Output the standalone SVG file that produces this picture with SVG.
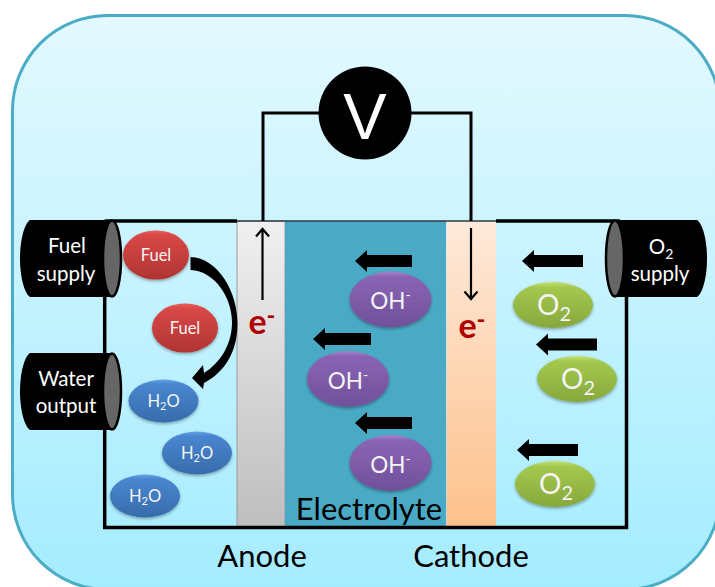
<svg xmlns="http://www.w3.org/2000/svg" width="715" height="587" viewBox="0 0 715 587">
<style>
text{font-family:"Lato","Open Sans","Liberation Sans",sans-serif;text-anchor:middle}
.cyl{fill:#000}
.cap{fill:#666;stroke:#000;stroke-width:2.5}
.wl{fill:#fff;font-size:20.5px}
.frame{fill:none;stroke:#000;stroke-width:3.5}
.wire{fill:none;stroke:#000;stroke-width:3}
.thin{fill:none;stroke:#000;stroke-width:2.2}
.block{fill:#000}
.big{fill:#000;font-size:31px}
.el{filter:url(#sh)}
.fuel{fill:url(#red)}
.water{fill:url(#blue)}
.oh{fill:url(#purple)}
.o2{fill:url(#green)}
.sm{fill:#f4f4f4;font-size:16.500px}
.md{fill:#f4f4f4;font-size:22.500px}
.ox{fill:#f4f4f4;font-size:28px}
.e{fill:#b00000;font-size:34px;font-weight:700}
</style>
<defs>
<linearGradient id="bg" x1="0" y1="0" x2="0" y2="1"><stop offset="0" stop-color="#e3f9ff"/><stop offset="1" stop-color="#a4ecff"/></linearGradient>
<linearGradient id="an" x1="0" y1="0" x2="0" y2="1"><stop offset="0" stop-color="#f0f0f0"/><stop offset="1" stop-color="#bebebe"/></linearGradient>
<linearGradient id="ca" x1="0" y1="0" x2="0" y2="1"><stop offset="0" stop-color="#fee9da"/><stop offset="1" stop-color="#fdc18c"/></linearGradient>
<linearGradient id="red" x1="0" y1="0" x2="0" y2="1"><stop offset="0" stop-color="#e85f5c"/><stop offset=".1" stop-color="#d84846"/><stop offset="1" stop-color="#b03432"/></linearGradient>
<linearGradient id="blue" x1="0" y1="0" x2="0" y2="1"><stop offset="0" stop-color="#6ca4e6"/><stop offset=".1" stop-color="#4a86d0"/><stop offset="1" stop-color="#366cab"/></linearGradient>
<linearGradient id="purple" x1="0" y1="0" x2="0" y2="1"><stop offset="0" stop-color="#a284cc"/><stop offset=".1" stop-color="#8a64b4"/><stop offset="1" stop-color="#70509a"/></linearGradient>
<linearGradient id="green" x1="0" y1="0" x2="0" y2="1"><stop offset="0" stop-color="#c4e070"/><stop offset=".12" stop-color="#a4c84e"/><stop offset="1" stop-color="#86a83c"/></linearGradient>
<filter id="sh" x="-15%" y="-15%" width="130%" height="140%"><feDropShadow dx="0" dy="1.5" stdDeviation="1.5" flood-color="#000" flood-opacity=".35"/></filter>
</defs>

<g id="background"><rect x="12.500" y="15.500" width="707.500" height="574" rx="95" ry="95" fill="url(#bg)" stroke="#4bacc6" stroke-width="3"/></g>

<g id="anode-plate"><rect x="237" y="221" width="48" height="306" fill="url(#an)" stroke="#9a9a9a" stroke-width="1"/></g>
<g id="electrolyte-body"><rect x="285" y="221" width="161" height="306" fill="#4aaac5"/></g>
<g id="cathode-plate"><rect x="446.500" y="221" width="49.500" height="306" fill="url(#ca)"/></g>

<g id="connectors">
<path class="frame" d="M104.700 297V353M104.700 430V527.500H626.500V297M104.700 221H237M496 221H620"/>
<path d="M237 221H496" fill="none" stroke="#2b3a40" stroke-width="1.500"/>
<path class="wire" d="M263 221V113H320M410 113H471V221"/>
<path class="thin" d="M262.500 300V229"/>
<path class="thin" d="M256 236.500L262.500 229L269 236.500"/>
<path class="thin" d="M471 228V299"/>
<path class="thin" d="M464.500 291.500L471 299L477.500 291.500"/>
<path id="fuel-to-water" class="block" d="M190.500 257C218 258 238 292 237.500 325C237 352 225 372 204 383L203 389L192 378L203 365L204 373C220 363 232 345 232 322C232 298 215 271 190.500 270Z"/>
<path class="block" d="M412 255V267H367V272L355 261L367 250V255Z"/>
<path class="block" d="M371 333V345H325V350L313 339L325 328V333Z"/>
<path class="block" d="M412 417V429H367V434L355 423L367 412V417Z"/>
<path class="block" d="M583 255V267H534V272L522 261L534 250V255Z"/>
<path class="block" d="M597 338.500V350.500H548V355.500L536 344.500L548 333.500V338.500Z"/>
<path class="block" d="M578 444V456H529V461L517 450L529 439V444Z"/>
</g>

<g id="voltmeter"><circle cx="365" cy="113" r="46.500" fill="#000"/><text x="365" y="139" fill="#fff" font-size="65" style="font-family:'Liberation Sans',sans-serif">V</text></g>

<g id="fuel-supply"><path class="cyl" d="M112 220H30C24 224 20 241 20 258.500C20 276 24 293 30 297H112Z"/><ellipse class="cap" cx="112" cy="258.500" rx="9" ry="38"/><text class="wl" x="67" y="253">Fuel</text><text class="wl" x="66" y="281">supply</text></g>
<g id="water-output"><path class="cyl" d="M112 353H30C24 357 20 374 20 391.500C20 409 24 426 30 430H112Z"/><ellipse class="cap" cx="112" cy="391.500" rx="9" ry="38"/><text class="wl" x="66" y="386">Water</text><text class="wl" x="66" y="413">output</text></g>
<g id="o2-supply"><path class="cyl" d="M615 220H697C703 224 707 241 707 258.500C707 276 703 293 697 297H615Z"/><ellipse class="cap" cx="615" cy="258.500" rx="9" ry="38"/><text class="wl" x="661" y="254">O<tspan font-size="14" dy="5">2</tspan></text><text class="wl" x="660" y="281">supply</text></g>

<g id="fuel-1"><ellipse class="el fuel" cx="156" cy="255" rx="33" ry="24.500"/><text class="sm" x="156" y="260.500">Fuel</text></g>
<g id="fuel-2"><ellipse class="el fuel" cx="185" cy="328" rx="33" ry="24.500"/><text class="sm" x="185" y="333.500">Fuel</text></g>
<g id="water-1"><ellipse class="el water" cx="163.500" cy="401" rx="35" ry="21.500"/><text class="sm" x="163.500" y="406.500">H<tspan font-size="11" dy="3">2</tspan><tspan dy="-3">O</tspan></text></g>
<g id="water-2"><ellipse class="el water" cx="197" cy="453" rx="35" ry="21.500"/><text class="sm" x="197" y="458.500">H<tspan font-size="11" dy="3">2</tspan><tspan dy="-3">O</tspan></text></g>
<g id="water-3"><ellipse class="el water" cx="145" cy="496" rx="35" ry="21.500"/><text class="sm" x="145" y="501.500">H<tspan font-size="11" dy="3">2</tspan><tspan dy="-3">O</tspan></text></g>

<g id="hydroxide-1"><ellipse class="el oh" cx="390.500" cy="299.500" rx="41" ry="28"/><text class="md" x="390.500" y="309">OH<tspan font-size="14" dy="-9">-</tspan></text></g>
<g id="hydroxide-2"><ellipse class="el oh" cx="348" cy="379" rx="41" ry="28"/><text class="md" x="348" y="388.500">OH<tspan font-size="14" dy="-9">-</tspan></text></g>
<g id="hydroxide-3"><ellipse class="el oh" cx="390.500" cy="463" rx="41" ry="28"/><text class="md" x="390.500" y="472.500">OH<tspan font-size="14" dy="-9">-</tspan></text></g>

<g id="oxygen-1"><ellipse class="el o2" cx="553" cy="305" rx="40" ry="23"/><text class="ox" x="554" y="314.500">O<tspan font-size="20" dy="6">2</tspan></text></g>
<g id="oxygen-2"><ellipse class="el o2" cx="577" cy="379" rx="40" ry="23"/><text class="ox" x="578" y="388.500">O<tspan font-size="20" dy="6">2</tspan></text></g>
<g id="oxygen-3"><ellipse class="el o2" cx="555" cy="484" rx="40" ry="23"/><text class="ox" x="556" y="493.500">O<tspan font-size="20" dy="6">2</tspan></text></g>

<g id="electron-anode"><text class="e" x="262" y="334">e<tspan font-size="24" dy="-10">-</tspan></text></g>
<g id="electron-cathode"><text class="e" x="472" y="338">e<tspan font-size="24" dy="-10">-</tspan></text></g>

<g id="electrolyte-label"><text class="big" x="369" y="520">Electrolyte</text></g>
<g id="anode-label"><text class="big" x="262" y="567">Anode</text></g>
<g id="cathode-label"><text class="big" x="471" y="567">Cathode</text></g>
</svg>
